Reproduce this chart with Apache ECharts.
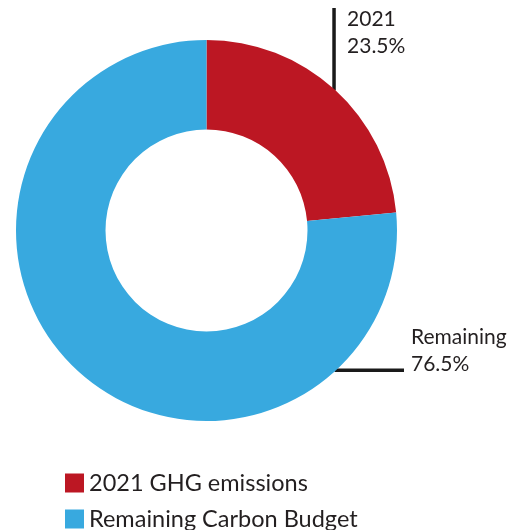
<!DOCTYPE html>
<html>
<head>
<meta charset="utf-8">
<script src="https://cdn.jsdelivr.net/npm/echarts@6/dist/echarts.min.js"></script>
<style>html,body{margin:0;padding:0;background:#fff}#c{width:508px;height:530px}</style>
</head>
<body>
<div id="c"></div>
<script>
// Data
const categories = ['2021 GHG emissions', 'Remaining Carbon Budget'];
const shortLabels = ['2021', 'Remaining'];
const values = [23.5, 76.5];
const colors = ['#BC1723', '#38A9DF'];

// Geometry / style
const CX = 206.5, CY = 230.5, R_IN = 101, R_OUT = 190.5;
const TEXT = '#231F20';
const FONT = 'Lato';
const LEGEND_TOPS = [471, 507];

const total = values.reduce((a, b) => a + b, 0);
function pointAt(fracFromTop, r) {
  const a = fracFromTop * 2 * Math.PI;
  return [CX + r * Math.sin(a), CY - r * Math.cos(a)];
}

const chart = echarts.init(document.getElementById('c'), null, {renderer: 'canvas'});
chart.setOption({
  animation: false,
  legend: categories.map((c, i) => ({
    orient: 'vertical',
    left: 65,
    top: LEGEND_TOPS[i],
    padding: 0,
    icon: 'rect',
    itemWidth: 19,
    itemHeight: 19,
    selectedMode: false,
    data: [c],
    textStyle: {fontFamily: FONT, fontSize: 23.5, color: TEXT, lineHeight: 19}
  })),
  series: [{
    type: 'pie',
    center: [CX, CY],
    radius: [R_IN, R_OUT],
    startAngle: 90,
    clockwise: true,
    avoidLabelOverlap: false,
    silent: true,
    data: categories.map((c, i) => ({name: c, value: values[i], itemStyle: {color: colors[i]}})),
    label: {
      show: true,
      position: 'outside',
      formatter: p => shortLabels[p.dataIndex] + '\n' + p.value.toFixed(1) + '%',
      fontFamily: FONT,
      fontSize: 21,
      lineHeight: 27,
      color: TEXT,
      align: 'left'
    },
    labelLine: {show: true, lineStyle: {color: '#1A1A1A', width: 3.5}},
    labelLayout: function (params) {
      const i = params.dataIndex;
      if (i === 0) {
        const mid = (values[0] / 2) / total;
        const a = pointAt(mid, R_OUT - 1);
        const topY = 8;
        return {
          x: a[0] + 13, y: 6, align: 'left', verticalAlign: 'top',
          labelLinePoints: [[a[0], a[1]], [a[0], (a[1] + topY) / 2], [a[0], topY]]
        };
      } else {
        const a = pointAt(137.5 / 360, R_OUT - 1);
        const endX = 404;
        return {
          x: endX + 7, y: a[1] + 8, align: 'left', verticalAlign: 'bottom',
          labelLinePoints: [[a[0], a[1]], [(a[0] + endX) / 2, a[1]], [endX, a[1]]]
        };
      }
    }
  }]
});
</script>
</body>
</html>
